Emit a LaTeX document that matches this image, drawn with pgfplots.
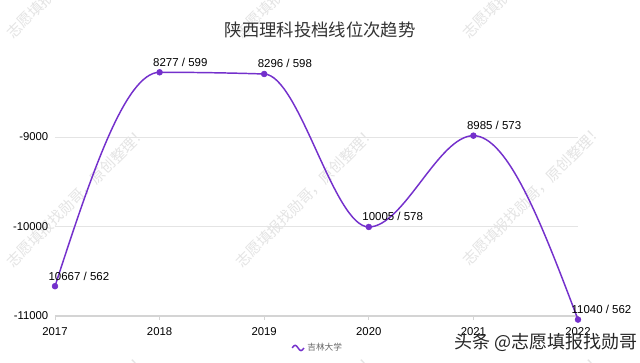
\documentclass[border=0pt]{standalone}
\usepackage{fontspec}
\setmainfont{Liberation Sans}
\newfontfamily\cjk{Noto Sans CJK SC}
\usepackage{pgfplots}
\pgfplotsset{compat=1.18}
\definecolor{lineviolet}{HTML}{7430CC}
\definecolor{gridgray}{HTML}{E4E4E4}
\definecolor{axisgray}{HTML}{D4D4D4}
\definecolor{wmgray}{HTML}{E4E4E4}

\begin{document}
\begin{tikzpicture}[x=1pt,y=1pt]
\clip (0,0) rectangle (480,271.5);
\fill[white] (0,0) rectangle (480,271.5);
% diagonal watermarks
\foreach \cx/\cy in {77/197, 306/197, 533/195, 77/-32, 306/-32, 533/-32, 77/424, 306/424, 533/424}
  \node[rotate=45, text=wmgray, font=\cjk\fontsize{11}{11}\selectfont] at ({\cx*0.75},{(362-\cy)*0.75}) {志愿填报找勋哥，原创整理！};
% title
\node[font=\cjk\fontsize{13}{15}\selectfont, text=black!80] at (240,249) {陕西理科投档线位次趋势};
\begin{axis}[
  at={(41.25pt,34.5pt)}, anchor=south west, scale only axis,
  width=392.25pt, height=201.375pt,
  xmin=2017, xmax=2022, ymin=-11000, ymax=-8000,
  clip=false,
  axis x line*=bottom, axis y line*=left,
  x axis line style={draw=axisgray, line width=0.8pt, -},
  y axis line style={draw=none},
  ytick={-11000,-10000,-9000},
  scaled y ticks=false, scaled x ticks=false,
  xtick={2017,2018,2019,2020,2021,2022},
  ymajorgrids, grid style={gridgray, line width=0.6pt},
  tick align=outside,
  xtick style={draw=axisgray, line width=0.6pt},
  ytick style={draw=none},
  major tick length=3pt,
  /pgf/number format/1000 sep={},
  /pgf/number format/assume math mode=true,
  ticklabel style={font=\fontsize{8.5}{10}\selectfont, text=black},
  xticklabel style={yshift=-2pt},
  yticklabel style={xshift=1.5pt},
  legend style={at={(0.503,-0.119)}, anchor=center, draw=none, fill=none,
    font=\cjk\fontsize{6.5}{8}\selectfont, text=black!60,
    /tikz/every even column/.append style={column sep=4pt}},
  legend image code/.code={\draw[lineviolet, line width=1.1pt] (0pt,0pt) sin (2.2pt,2pt) cos (4.4pt,0pt) sin (6.6pt,-2pt) cos (8.8pt,0pt);},
]
% smooth (monotone cubic) line through the data points
\draw[lineviolet, line width=1.1pt]
  (axis cs:2017,-10667) .. controls (axis cs:2017.3333,-9472) and (axis cs:2017.6667,-8277) ..
  (axis cs:2018,-8277)  .. controls (axis cs:2018.3333,-8277) and (axis cs:2018.6667,-8283.5) ..
  (axis cs:2019,-8296)  .. controls (axis cs:2019.3333,-8308.5) and (axis cs:2019.6667,-10005) ..
  (axis cs:2020,-10005) .. controls (axis cs:2020.3333,-10005) and (axis cs:2020.6667,-8985) ..
  (axis cs:2021,-8985)  .. controls (axis cs:2021.3333,-8985) and (axis cs:2021.6667,-10012.3) ..
  (axis cs:2022,-11040);
\addplot[lineviolet, only marks,
  mark=*, mark size=2.2pt, mark options={fill=lineviolet, draw=lineviolet},
  nodes near coords, point meta=explicit symbolic,
  nodes near coords style={anchor=base west, inner sep=0pt, xshift=-5pt, yshift=4.5pt,
    font=\fontsize{8.6}{10}\selectfont, text=black}]
coordinates {
  (2017,-10667) [10667 / 562]
  (2018,-8277)  [8277 / 599]
  (2019,-8296)  [8296 / 598]
  (2020,-10005) [10005 / 578]
  (2021,-8985)  [8985 / 573]
  (2022,-11040) [11040 / 562]
};
\addlegendentry{吉林大学}
\end{axis}
% bottom-right watermark
\node[font=\cjk\fontsize{13.5}{15}\selectfont, text=black!85] at ({546*0.75},{(362-342)*0.75}) {头条 @志愿填报找勋哥};
\end{tikzpicture}
\end{document}
